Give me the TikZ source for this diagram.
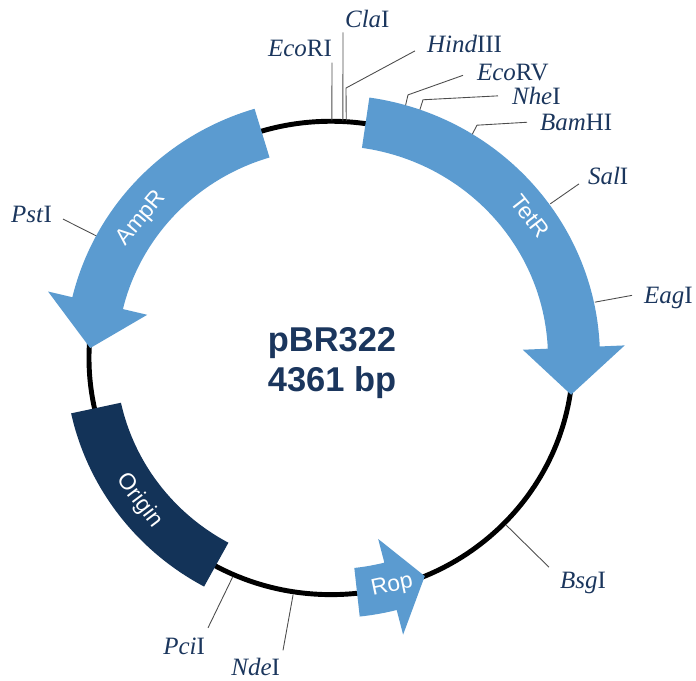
\documentclass[tikz,border=0pt]{standalone}
\usepackage{fontspec}
\setmainfont{Liberation Serif}
\setsansfont{Liberation Sans}
\definecolor{genblue}{RGB}{91,155,208}
\definecolor{orinavy}{RGB}{19,51,88}
\definecolor{txtnavy}{RGB}{27,54,93}

\begin{document}
\begin{tikzpicture}[x=0.02cm,y=0.02cm,yscale=0.978,
  site/.style={font=\fontsize{14.2}{16}\selectfont,text=txtnavy,inner sep=1pt},
  tick/.style={draw=black!70,line width=0.5pt},
  gene/.style={fill=genblue,draw=none},
  genelabel/.style={font=\sffamily\fontsize{13}{15}\selectfont,text=white,inner sep=0pt}]
\useasboundingbox (-331,-330.3) rectangle (365,366);

\draw[line width=2.8pt] (0,0) circle[radius=242];

\fill[gene] (106.7:266) arc[start angle=106.7,end angle=166.5,radius=266]
  -- (166.5:291) -- (177.6:241) -- (166.5:189) -- (166.5:214)
  arc[start angle=166.5,end angle=106.7,radius=214] -- cycle;
\fill[gene] (81.8:269) arc[start angle=81.8,end angle=2.5,radius=269]
  -- (2.5:294) -- (-8.9:243) -- (2.5:192) -- (2.5:217)
  arc[start angle=2.5,end angle=81.8,radius=217] -- cycle;
\fill[gene] (-83.8:266) arc[start angle=-83.8,end angle=-75.7,radius=266]
  -- (-75.7:292) -- (-67.2:242) -- (-75.7:191) -- (-75.7:216)
  arc[start angle=-75.7,end angle=-83.8,radius=216] -- cycle;
\fill[orinavy] (192.3:266) arc[start angle=192.3,end angle=241.5,radius=266]
  -- (241.5:215) arc[start angle=241.5,end angle=192.3,radius=215] -- cycle;

\node[genelabel,rotate=50] (ampr) at (143:237) {AmpR};
\node[genelabel,rotate=-52] (tetr) at (36:246) {TetR};
\node[genelabel,rotate=-53] (origin) at (217.3:241) {Origin};
\node[genelabel,rotate=12] (rop) at (-75.3:241) {Rop};

\node[font=\sffamily\bfseries\fontsize{19.6}{22.7}\selectfont,text=txtnavy,align=center]
  (plasmid) at (1,-5) {pBR322\\4361 bp};

\node[site,anchor=base east] (ecori) at (3,308) {\textit{Eco}RI};
\node[site,anchor=base west] (cla) at (12,338) {\textit{Cla}I};
\node[site,anchor=base west] (hind) at (94,312) {\textit{Hind}III};
\node[site,anchor=base west] (ecorv) at (144,284) {\textit{Eco}RV};
\node[site,anchor=base west] (nhe) at (179,259) {\textit{Nhe}I};
\node[site,anchor=base west] (bam) at (207,233) {\textit{Bam}HI};
\node[site,anchor=base west] (sal) at (255,177) {\textit{Sal}I};
\node[site,anchor=base west] (eag) at (311,56) {\textit{Eag}I};
\node[site,anchor=base west] (bsg) at (227,-236) {\textit{Bsg}I};
\node[site,anchor=base east] (pci) at (-124,-303) {\textit{Pci}I};
\node[site,anchor=base east] (nde) at (-49,-325) {\textit{Nde}I};
\node[site,anchor=base east] (pst) at (-277,138) {\textit{Pst}I};

\coordinate (ecori0) at (89.8:243);  \coordinate (ecori1) at (1,302);
\coordinate (cla0) at (87.2:243);    \coordinate (cla1) at (12,333);
\coordinate (hind0) at (86.4:243);   \coordinate (hind1) at (15,276);  \coordinate (hind2) at (84,314);
\coordinate (ecorv0) at (73.9:269);  \coordinate (ecorv1) at (77,269); \coordinate (ecorv2) at (132,289);
\coordinate (nhe0) at (70.7:269);    \coordinate (nhe1) at (92,264);   \coordinate (nhe2) at (167,268);
\coordinate (bam0) at (58.3:269);    \coordinate (bam1) at (146,238);  \coordinate (bam2) at (196,241);
\coordinate (sal0) at (35.7:270);    \coordinate (sal1) at (248,178);
\coordinate (eag0) at (12.2:270);    \coordinate (eag1) at (301,64);
\coordinate (bsg0) at (-44.3:245);   \coordinate (bsg1) at (218,-214);
\coordinate (pci0) at (246.3:245);   \coordinate (pci1) at (-123,-276);
\coordinate (nde0) at (261.1:245);   \coordinate (nde1) at (-48,-299);
\coordinate (pst0) at (152:266);     \coordinate (pst1) at (-268,142);

\draw[tick] (ecori0) -- (ecori1);
\draw[tick] (cla0) -- (cla1);
\draw[tick] (hind0) -- (hind1) -- (hind2);
\draw[tick] (ecorv0) -- (ecorv1) -- (ecorv2);
\draw[tick] (nhe0) -- (nhe1) -- (nhe2);
\draw[tick] (bam0) -- (bam1) -- (bam2);
\draw[tick] (sal0) -- (sal1);
\draw[tick] (eag0) -- (eag1);
\draw[tick] (bsg0) -- (bsg1);
\draw[tick] (pci0) -- (pci1);
\draw[tick] (nde0) -- (nde1);
\draw[tick] (pst0) -- (pst1);
\end{tikzpicture}
\end{document}
